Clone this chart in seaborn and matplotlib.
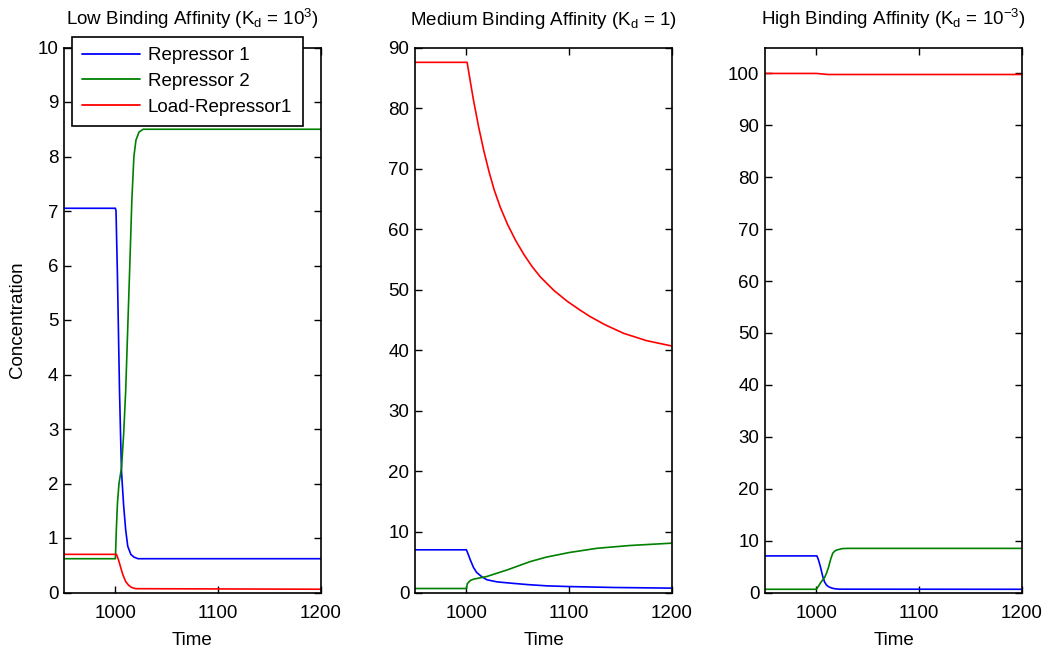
import numpy as np
import pandas as pd
import matplotlib
matplotlib.use("Agg")
import matplotlib.pyplot as plt
import seaborn as sns

# ---- time courses (concentration vs time) for three binding affinities ----
# Low binding affinity (Kd = 10^3)
low_t_rep1 = [950, 1000, 1000.6, 1002, 1004, 1005, 1006, 1008, 1010, 1012, 1015, 1018, 1022, 1200]
low_rep1 = [7.05, 7.05, 7.0, 5.8, 3.7, 2.9, 2.2, 1.6, 1.15, 0.85, 0.70, 0.65, 0.62, 0.62]
low_t_rep2 = [950, 1000, 1001, 1002, 1003.5, 1006, 1008, 1010, 1012, 1014, 1016, 1018, 1020, 1023, 1027, 1200]
low_rep2 = [0.62, 0.62, 1.2, 1.64, 2.0, 2.3, 2.9, 3.7, 4.85, 6.0, 7.2, 8.0, 8.3, 8.45, 8.5, 8.5]
low_t_load = [950, 1001, 1003, 1005, 1007, 1010, 1013, 1016, 1020, 1200]
low_load = [0.70, 0.70, 0.60, 0.47, 0.34, 0.20, 0.13, 0.09, 0.07, 0.06]

# Medium binding affinity (Kd = 1)
med_t_rep1 = [950, 1000, 1002, 1004, 1007, 1010, 1015, 1020, 1030, 1046, 1060, 1078, 1100, 1143, 1200]
med_rep1 = [7.05, 7.05, 6.2, 5.3, 4.1, 3.3, 2.6, 2.1, 1.75, 1.5, 1.3, 1.1, 0.98, 0.83, 0.72]
med_t_rep2 = [950, 1000, 1001, 1004, 1007, 1020, 1040, 1062, 1078, 1100, 1127, 1159, 1200]
med_rep2 = [0.66, 0.66, 1.5, 2.0, 2.2, 2.65, 3.75, 5.1, 5.85, 6.6, 7.3, 7.76, 8.15]
med_t_load = [950, 1000.7, 1004, 1007, 1012, 1017, 1022, 1027, 1033, 1040, 1048, 1056,
              1064, 1072, 1085, 1098, 1110, 1120, 1135, 1153, 1175, 1200]
med_load = [87.55, 87.55, 84.2, 81.2, 76.8, 72.9, 69.5, 66.5, 63.6, 60.8, 58.1, 55.8,
            53.8, 52.1, 49.9, 48.1, 46.7, 45.6, 44.2, 42.8, 41.6, 40.7]

# High binding affinity (Kd = 10^-3)
high_t_rep1 = [950, 1000.5, 1002, 1004, 1006, 1008, 1010, 1012, 1015, 1018, 1022, 1200]
high_rep1 = [7.05, 7.05, 6.3, 4.9, 3.2, 2.0, 1.4, 1.1, 0.85, 0.72, 0.64, 0.62]
high_t_rep2 = [950, 1000, 1002, 1004, 1006, 1008, 1010, 1012, 1014, 1016, 1018, 1020, 1025, 1030, 1200]
high_rep2 = [0.62, 0.62, 1.2, 1.85, 2.4, 2.9, 3.8, 5.0, 6.5, 7.6, 8.0, 8.2, 8.45, 8.5, 8.5]
high_t_load = [950, 1000, 1011, 1200]
high_load = [100.0, 100.0, 99.8, 99.8]

series_names = ["Repressor 1", "Repressor 2", "Load-Repressor1"]
series_colors = ["#0000ff", "#008000", "#ff0000"]

panel_titles = [
    r"Low Binding Affinity (K$_{\mathrm{d}}$ = 10$^{\mathrm{3}}$)",
    r"Medium Binding Affinity (K$_{\mathrm{d}}$ = 1)",
    r"High Binding Affinity (K$_{\mathrm{d}}$ = 10$^{\mathrm{-3}}$)",
]
x_ticks = [1000, 1100, 1200]
y_limits = [(0, 10), (0, 90), (0, 105)]
y_ticks = [list(range(0, 11, 1)), list(range(0, 91, 10)), list(range(0, 101, 10))]


def long_frame(t1, y1, t2, y2, t3, y3):
    parts = []
    for name, t, y in zip(series_names, (t1, t2, t3), (y1, y2, y3)):
        parts.append(pd.DataFrame({"Time": t, "Concentration": y, "Species": name}))
    return pd.concat(parts, ignore_index=True)


frames = [
    long_frame(low_t_rep1, low_rep1, low_t_rep2, low_rep2, low_t_load, low_load),
    long_frame(med_t_rep1, med_rep1, med_t_rep2, med_rep2, med_t_load, med_load),
    long_frame(high_t_rep1, high_rep1, high_t_rep2, high_rep2, high_t_load, high_load),
]

sns.set_theme(style="ticks")
plt.rcParams["font.family"] = ["Liberation Sans", "DejaVu Sans"]
plt.rcParams["mathtext.fontset"] = "custom"
plt.rcParams["mathtext.rm"] = "Liberation Sans"
plt.rcParams["mathtext.it"] = "Liberation Sans"
plt.rcParams["font.size"] = 13.5
plt.rcParams["text.color"] = "black"
plt.rcParams["axes.labelcolor"] = "black"
plt.rcParams["xtick.color"] = "black"
plt.rcParams["ytick.color"] = "black"

fig = plt.figure(figsize=(10.47, 6.55), dpi=100)
fig.patch.set_facecolor("white")

W, H = 1047, 655
lefts = [64, 415, 765]
width_px = 257
top_px, bottom_px = 47.5, 592.5
fs = 13.5

palette = dict(zip(series_names, series_colors))

for i, df in enumerate(frames):
    ax = fig.add_axes([lefts[i] / W, 1 - bottom_px / H, width_px / W, (bottom_px - top_px) / H])
    sns.lineplot(data=df, x="Time", y="Concentration", hue="Species", hue_order=series_names,
                 palette=palette, estimator=None, sort=True, linewidth=1.2,
                 legend=(i == 0), ax=ax)
    ax.set_xlim(950, 1200)
    ax.set_ylim(*y_limits[i])
    ax.set_xticks(x_ticks)
    ax.set_yticks(y_ticks[i])
    ax.tick_params(direction="in", top=True, right=True, length=5, width=1.0,
                   labelsize=fs, colors="black")
    ax.tick_params(axis="x", pad=9)
    ax.tick_params(axis="y", pad=4)
    for sp in ax.spines.values():
        sp.set_visible(True)
        sp.set_linewidth(1.2)
        sp.set_color("black")
    ax.set_title(panel_titles[i], fontsize=fs, pad=16, color="black")
    ax.set_xlabel("Time", fontsize=fs, labelpad=7, color="black")
    if i == 0:
        ax.set_ylabel("Concentration", fontsize=fs, labelpad=8, color="black")
        leg = ax.legend(loc="upper left", bbox_to_anchor=(72 / W, 1 - 37 / H),
                        bbox_transform=fig.transFigure, borderaxespad=0,
                        fontsize=fs, frameon=True, fancybox=False, shadow=False,
                        handlelength=3.1, labelspacing=0.45, borderpad=0.55,
                        handletextpad=0.4, title=None)
        leg.get_frame().set_edgecolor("black")
        leg.get_frame().set_linewidth(1.2)
        leg.get_frame().set_alpha(1.0)
        for line in leg.get_lines():
            line.set_linewidth(1.3)
        for txt in leg.get_texts():
            txt.set_color("black")
    else:
        ax.set_ylabel("")

fig.savefig("out.png", dpi=100, facecolor="white")
